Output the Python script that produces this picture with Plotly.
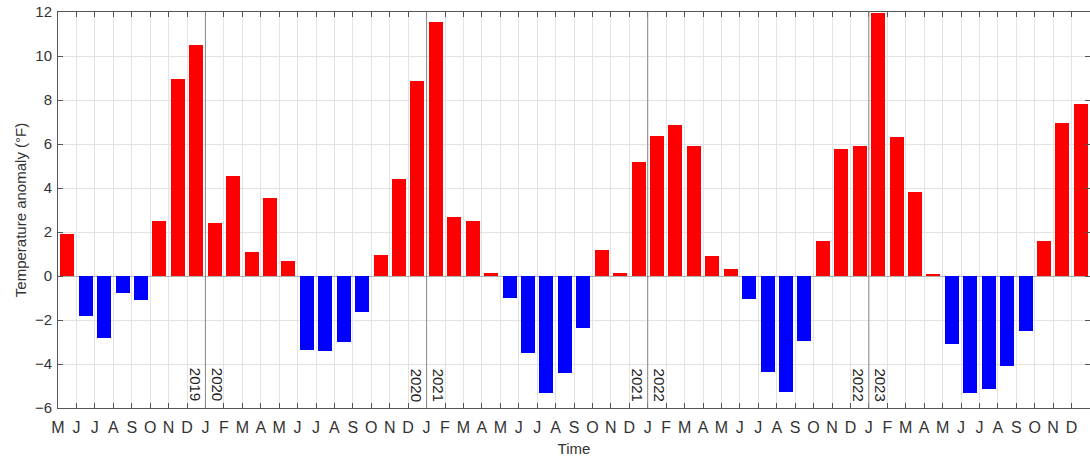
import plotly.graph_objects as go

months = ["M","J","J","A","S","O","N","D",
          "J","F","M","A","M","J","J","A","S","O","N","D",
          "J","F","M","A","M","J","J","A","S","O","N","D",
          "J","F","M","A","M","J","J","A","S","O","N","D",
          "J","F","M","A","M","J","J","A","S","O","N","D"]
values = [1.9, -1.8, -2.8, -0.75, -1.1, 2.5, 8.95, 10.5,
          2.4, 4.55, 1.08, 3.56, 0.67, -3.36, -3.39, -2.98, -1.62, 0.94, 4.41, 8.85,
          11.55, 2.7, 2.49, 0.15, -0.98, -3.48, -5.33, -4.42, -2.35, 1.18, 0.15, 5.2,
          6.38, 6.85, 5.91, 0.91, 0.33, -1.06, -4.36, -5.26, -2.97, 1.59, 5.77, 5.92,
          11.94, 6.33, 3.8, 0.08, -3.09, -5.3, -5.14, -4.09, -2.49, 1.59, 6.97, 7.82]
year_starts = [2020, 2021, 2022, 2023]
first_year_start_index = 8

n = len(values)
xpos = [i + 0.5 for i in range(n)]
colors = ["#FF0000" if v >= 0 else "#0000FF" for v in values]

fig = go.Figure()
fig.add_trace(go.Bar(x=xpos, y=values, marker=dict(color=colors, line=dict(width=0)),
                     width=0.76, showlegend=False))

shapes = []
annotations = []
for k, yr in enumerate(year_starts):
    xi = first_year_start_index + 12 * k
    shapes.append(dict(type="line", xref="x", yref="paper", x0=xi, x1=xi, y0=0, y1=1,
                       line=dict(color="#8a8a8a", width=1), layer="above"))
    annotations.append(dict(x=xi, y=0.012, xref="x", yref="paper", text=str(yr - 1),
                            textangle=90, showarrow=False, xanchor="right", yanchor="bottom",
                            xshift=0, font=dict(size=15, color="#222")))
    annotations.append(dict(x=xi, y=0.012, xref="x", yref="paper", text=str(yr),
                            textangle=90, showarrow=False, xanchor="left", yanchor="bottom",
                            xshift=1, font=dict(size=15, color="#222")))

fig.update_layout(
    width=1090, height=459,
    margin=dict(l=58, r=0, t=12, b=51),
    paper_bgcolor="white", plot_bgcolor="white",
    font=dict(family="Liberation Sans, Arial, sans-serif", size=15, color="#333"),
    shapes=shapes, annotations=annotations, bargap=0,
)
fig.update_xaxes(
    range=[0, n], tickmode="array", tickvals=list(range(n)), ticktext=months,
    showgrid=True, gridcolor="#e3e3e3", gridwidth=1,
    ticks="inside", ticklen=5, tickcolor="#555", showline=True, linecolor="#555",
    mirror="ticks", zeroline=False, ticklabelstandoff=5,
    title=dict(text="Time", standoff=8, font=dict(size=15)),
    tickfont=dict(size=16),
)
fig.update_yaxes(
    range=[-6, 12], dtick=2, tick0=0,
    showgrid=True, gridcolor="#e3e3e3", gridwidth=1,
    ticks="inside", ticklen=5, tickcolor="#555", showline=True, linecolor="#555",
    mirror="ticks", zeroline=True, zerolinecolor="#b0b0b0", zerolinewidth=1,
    ticklabelstandoff=2,
    title=dict(text="Temperature anomaly (°F)", standoff=4, font=dict(size=15)),
    tickfont=dict(size=15),
)

fig.write_html("out.html")
